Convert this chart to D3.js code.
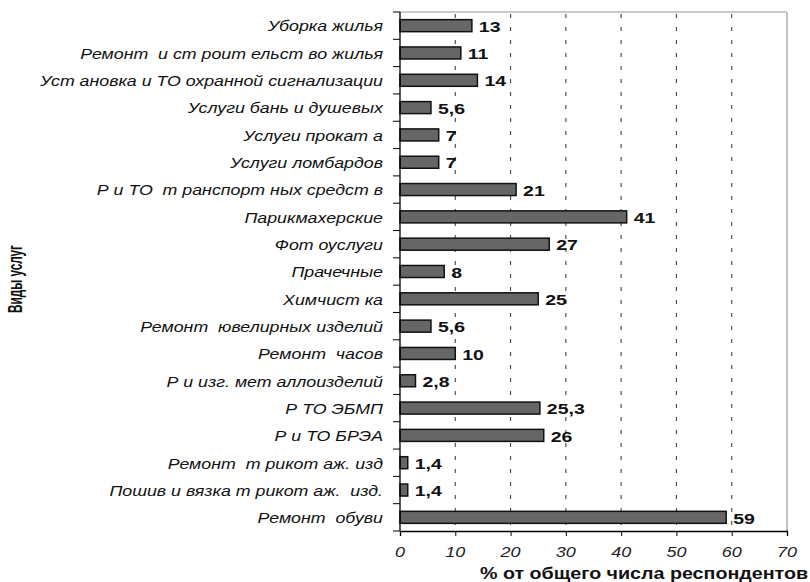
<!DOCTYPE html>
<html><head><meta charset="utf-8">
<script src="https://cdn.jsdelivr.net/npm/d3@7"></script>
<style>
body{margin:0;background:#fff;}
svg{display:block;font-family:"Liberation Sans",Arial,sans-serif;}
text{white-space:pre;}
</style></head>
<body>
<svg id="chart" width="810" height="582"></svg>
<script>
const categories = [
  "Уборка жилья",
  "Ремонт  и ст роит ельст во жилья",
  "Уст ановка и ТО охранной сигнализации",
  "Услуги бань и душевых",
  "Услуги прокат а",
  "Услуги ломбардов",
  "Р и ТО  т ранспорт ных средст в",
  "Парикмахерские",
  "Фот оуслуги",
  "Прачечные",
  "Химчист ка",
  "Ремонт  ювелирных изделий",
  "Ремонт  часов",
  "Р и изг. мет аллоизделий",
  "Р ТО ЭБМП",
  "Р и ТО БРЭА",
  "Ремонт  т рикот аж. изд",
  "Пошив и вязка т рикот аж.  изд.",
  "Ремонт  обуви"
];
const values = [13, 11, 14, 5.6, 7, 7, 21, 41, 27, 8, 25, 5.6, 10, 2.8, 25.3, 26, 1.4, 1.4, 59];
const xTicks = [0, 10, 20, 30, 40, 50, 60, 70];
const xTitle = "% от общего числа респондентов";
const yTitle = "Виды услуг";

const svg = d3.select("#chart");
const L = 400, R = 787, T = 12, B = 531;

const x = d3.scaleLinear().domain([0, 70]).range([L, R]);
const y = d3.scaleBand().domain(categories).range([T, B]).paddingInner(0.56).paddingOuter(0.28);
const step = y.step();
const fmt = v => String(v).replace(".", ",");

// gridlines (dashed)
svg.append("g").selectAll("line").data(xTicks.filter(t => t > 0 && t < 70)).join("line")
  .attr("x1", d => x(d)).attr("x2", d => x(d)).attr("y1", T + 2).attr("y2", B)
  .attr("stroke", "#444").attr("stroke-width", 1.1).attr("stroke-dasharray", "4,9");

// frame top/right gray
svg.append("line").attr("x1", L).attr("x2", R).attr("y1", T).attr("y2", T).attr("stroke", "#999").attr("stroke-width", 1.2);
svg.append("line").attr("x1", R).attr("x2", R).attr("y1", T).attr("y2", B).attr("stroke", "#999").attr("stroke-width", 1.2);

// bars
svg.append("g").selectAll("rect").data(categories).join("rect")
  .attr("x", x(0)).attr("y", d => y(d))
  .attr("width", (d, i) => x(values[i]) - x(0))
  .attr("height", y.bandwidth())
  .attr("fill", "#666").attr("stroke", "#111").attr("stroke-width", 1.5);

// value labels
svg.append("g").selectAll("text").data(categories).join("text")
  .attr("transform", (d, i) => `translate(${x(values[i]) + 7},${y(d) + y.bandwidth() / 2 + 1}) scale(1.3,1)`)
  .attr("dominant-baseline", "central")
  .attr("font-size", 15).attr("font-weight", "bold").attr("fill", "#111")
  .text((d, i) => fmt(values[i]));

// y axis (ticks between categories)
const yAxis = svg.append("g");
yAxis.append("line").attr("x1", L).attr("x2", L).attr("y1", T).attr("y2", B).attr("stroke", "#000").attr("stroke-width", 1.3);
yAxis.selectAll("line.t").data(d3.range(categories.length + 1)).join("line").attr("class", "t")
  .attr("x1", L - 7).attr("x2", L).attr("y1", i => T + i * step).attr("y2", i => T + i * step)
  .attr("stroke", "#000").attr("stroke-width", 1);
yAxis.selectAll("text").data(categories).join("text")
  .attr("transform", d => `translate(${L - 17},${y(d) + y.bandwidth() / 2 + 1}) scale(1.27,1)`)
  .attr("text-anchor", "end").attr("dominant-baseline", "central")
  .attr("font-size", 14).attr("font-style", "italic").attr("fill", "#111")
  .text(d => d);

// x axis
const xAxis = svg.append("g").attr("transform", `translate(0,${B})`)
  .call(d3.axisBottom(x).tickValues(xTicks).tickSize(5).tickFormat(""));
xAxis.select(".domain").attr("stroke", "#000").attr("stroke-width", 1.3);
xAxis.selectAll(".tick line").attr("stroke", "#000");
svg.append("g").selectAll("text").data(xTicks).join("text")
  .attr("transform", d => `translate(${x(d)},557) scale(1.2,1)`)
  .attr("text-anchor", "middle")
  .attr("font-size", 15).attr("font-style", "italic").attr("fill", "#222")
  .text(d => d);

// titles
svg.append("text").attr("x", 644).attr("y", 579).attr("text-anchor", "middle")
  .attr("font-size", 16).attr("font-weight", "bold").attr("fill", "#111")
  .attr("textLength", 328).attr("lengthAdjust", "spacingAndGlyphs")
  .text(xTitle);
svg.append("text").attr("transform", "translate(22,279) rotate(-90)").attr("text-anchor", "middle")
  .attr("font-size", 20).attr("font-weight", "bold").attr("fill", "#111")
  .attr("textLength", 68).attr("lengthAdjust", "spacingAndGlyphs")
  .text(yTitle);
</script>
</body></html>
